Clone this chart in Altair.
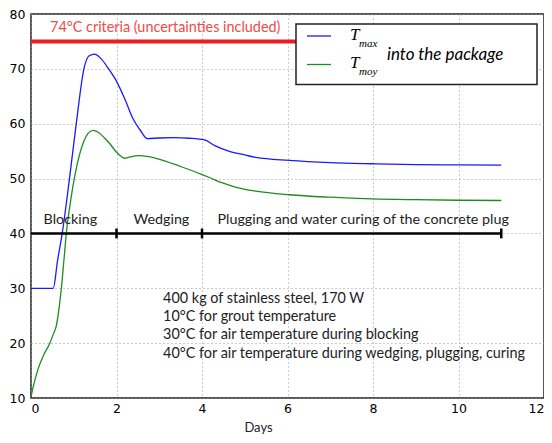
import altair as alt
import pandas as pd

# ---- data ----
max_day = [0.0, 0.52, 0.62, 0.73, 0.9, 1.06, 1.24, 1.36, 1.49, 1.62, 1.8, 1.96, 2.2, 2.38, 2.55, 2.72,
           3.0, 3.36, 3.7, 4.06, 4.3, 4.64, 5.0, 5.26, 6.04, 7.0, 7.97, 9.0, 10.0, 11.0]
max_T = [30.0, 30.0, 35.0, 40.0, 50.0, 60.1, 70.1, 72.4, 72.7, 72.0, 70.2, 68.3, 64.4, 61.0, 58.9, 57.3,
         57.4, 57.45, 57.35, 57.05, 56.0, 54.95, 54.3, 53.85, 53.3, 52.9, 52.7, 52.55, 52.5, 52.45]

moy_day = [0.0, 0.05, 0.17, 0.3, 0.44, 0.52, 0.6, 0.66, 0.71, 0.77, 0.83, 0.93, 1.03, 1.12, 1.22, 1.33,
           1.45, 1.58, 1.72, 1.85, 1.99, 2.1, 2.19, 2.3, 2.5, 2.75, 2.97, 3.5, 3.98, 4.2, 4.48, 4.8,
           5.26, 6.04, 7.0, 7.97, 9.0, 10.0, 11.0]
moy_T = [10.2, 12.0, 15.4, 17.9, 20.0, 21.6, 23.4, 26.6, 30.0, 35.1, 40.3, 46.1, 50.7, 53.9, 56.5, 58.2,
         58.8, 58.4, 57.4, 56.3, 54.9, 54.1, 53.7, 53.9, 54.2, 54.0, 53.6, 52.2, 50.8, 50.1, 49.2, 48.4,
         47.7, 47.05, 46.6, 46.3, 46.15, 46.05, 46.0]

criteria_T = 75.0
criteria_end = 6.2
criteria_label = "74°C criteria (uncertainties included)"

phase_bounds = [2, 4, 11]
phase_start = 0
phase_level = 40
phase_labels = ["Blocking", "Wedging", "Plugging and water curing of the concrete plug"]
phase_label_day = [0.92, 3.05, 7.77]
phase_label_T = 42.5

notes = ["400 kg of stainless steel, 170 W",
         "10°C for grout temperature",
         "30°C for air temperature during blocking",
         "40°C for air temperature during wedging, plugging, curing"]
notes_day = 3.09
notes_T = [28.0, 24.75, 21.45, 18.1]

series_names = ["max", "moy"]
series_colors = ["#1a1aff", "#1e8c1e"]

# ---- tables ----
df_lines = pd.concat([
    pd.DataFrame({"day": max_day, "temp": max_T, "series": "max"}),
    pd.DataFrame({"day": moy_day, "temp": moy_T, "series": "moy"}),
])
df_crit = pd.DataFrame({"day": [0.0], "day2": [criteria_end], "temp": [criteria_T]})
df_phase = pd.DataFrame({"day": [phase_start], "day2": [phase_bounds[-1]], "temp": [phase_level]})
df_ticks = pd.DataFrame({"day": phase_bounds, "temp": [phase_level - 0.9] * 3, "temp2": [phase_level + 0.9] * 3})
df_plabels = pd.DataFrame({"day": phase_label_day, "temp": [phase_label_T] * 3, "label": phase_labels})
df_notes = pd.DataFrame({"day": [notes_day] * 4, "temp": notes_T, "label": notes})

FONT = "Lato"

xscale = alt.Scale(domain=[0, 12], nice=False, zero=False)
yscale = alt.Scale(domain=[10, 80], nice=False, zero=False)
xaxis = alt.Axis(values=[0, 2, 4, 6, 8, 10, 12], format="d", title="Days", grid=True,
                 titleX=227, titleY=33, titleBaseline="alphabetic", titleFont=FONT, titleFontSize=13,
                 titleFontWeight="normal", titleColor="#222")
yaxis = alt.Axis(values=[10, 20, 30, 40, 50, 60, 70, 80], format="d", title=None, grid=True)

X = alt.X("day:Q", scale=xscale, axis=xaxis)
Y = alt.Y("temp:Q", scale=yscale, axis=yaxis)

lines = alt.Chart(df_lines).mark_line(strokeWidth=1.3, interpolate="monotone").encode(
    x=X, y=Y,
    color=alt.Color("series:N", scale=alt.Scale(domain=series_names, range=series_colors), legend=None),
)

crit = alt.Chart(df_crit).mark_rule(color="#ee1c25", strokeWidth=4).encode(x=X, x2="day2:Q", y=Y)
crit_text = alt.Chart(pd.DataFrame({"day": [3.14], "temp": [77.4], "label": [criteria_label]})).mark_text(
    font=FONT, fontSize=14.4, color="#f04a4a").encode(x=X, y=Y, text="label:N")

phase = alt.Chart(df_phase).mark_rule(color="black", strokeWidth=2.5).encode(x=X, x2="day2:Q", y=Y)
ticks = alt.Chart(df_ticks).mark_rule(color="black", strokeWidth=2.5).encode(x=X, y=Y, y2="temp2:Q")
plabels = alt.Chart(df_plabels).mark_text(font=FONT, fontSize=14.3, color="#222").encode(
    x=X, y=Y, text="label:N")
notes_t = alt.Chart(df_notes).mark_text(font=FONT, fontSize=14.4, align="left", color="#222").encode(
    x=X, y=Y, text="label:N")

# ---- legend box (drawn) ----
one = pd.DataFrame({"a": [0]})
box = alt.Chart(one).mark_rect(fill="white", stroke="#222", strokeWidth=1.5).encode(
    x=alt.value(265), x2=alt.value(506), y=alt.value(10), y2=alt.value(70.5))
leg_max = alt.Chart(one).mark_rule(color=series_colors[0], strokeWidth=1.3).encode(
    x=alt.value(276), x2=alt.value(300), y=alt.value(22))
leg_moy = alt.Chart(one).mark_rule(color=series_colors[1], strokeWidth=1.3).encode(
    x=alt.value(276), x2=alt.value(300), y=alt.value(50.5))
legT = alt.Chart(pd.DataFrame({"t": ["T", "T"], "yy": [20.5, 49]})).mark_text(
    font="Liberation Serif", fontStyle="italic", fontSize=17, align="left", baseline="middle",
    color="black").encode(x=alt.value(319), y=alt.Y("yy:Q", scale=None), text="t:N")
legSub = alt.Chart(pd.DataFrame({"t": ["max", "moy"], "yy": [29.5, 57.5]})).mark_text(
    font="Liberation Serif", fontStyle="italic", fontSize=11, align="left", baseline="middle",
    color="black").encode(x=alt.value(328), y=alt.Y("yy:Q", scale=None), text="t:N")
legInto = alt.Chart(one).mark_text(
    font=FONT, fontStyle="italic", fontSize=17, align="left", baseline="middle", color="black",
    text="into the package").encode(x=alt.value(356), y=alt.value(40.5))

chart = alt.layer(
    lines, crit, crit_text, phase, ticks, plabels, notes_t,
    box, leg_max, leg_moy, legT, legSub, legInto,
).properties(
    width=513, height=384,
    autosize=alt.AutoSizeParams(type="none"),
    padding={"left": 23, "top": 6, "right": 0, "bottom": 37},
).configure_view(
    stroke="#222", strokeWidth=1.5,
).configure_axis(
    domain=False, ticks=False, labelFont="DejaVu Sans", labelFontSize=12.5, labelColor="black",
    gridColor="#999", gridDash=[1, 3], gridWidth=1, labelPadding=4,
).configure_axisY(labelPadding=6)

chart.save("out.html", embed_options={"renderer": "svg", "actions": False})
